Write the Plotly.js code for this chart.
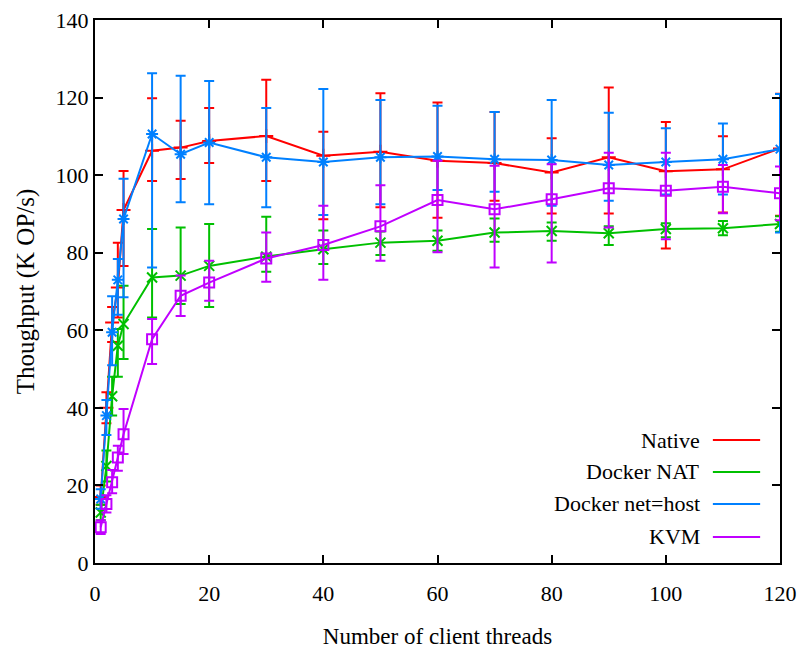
<!DOCTYPE html>
<html>
<head>
<meta charset="utf-8">
<script src="https://cdn.plot.ly/plotly-3.0.1.min.js"></script>
<style>html,body{margin:0;padding:0;background:#fff;}#chart{width:800px;height:655px;}</style>
</head>
<body>
<div id="chart"></div>
<script>
// Number of client threads
const threads = [1, 2, 3, 4, 5, 10, 15, 20, 30, 40, 50, 60, 70, 80, 90, 100, 110, 120];

const seriesNames = ["Native", "Docker NAT", "Docker net=host", "KVM"];

// Throughput (K OP/s): value, upper end and lower end of each error bar
const nativeVal = [17, 40, 62, 71, 91, 106.3, 107.1, 108.8, 110.1, 105, 106, 103.7, 103.1, 100.7, 104.6, 101, 101.5, 106.9];
const nativeHi  = [20, 44, 66, 82.6, 101.1, 119.8, 114, 117.3, 124.6, 111.2, 121.1, 118.7, 116.3, 109.5, 122.6, 113.7, 110, 121];
const nativeLo  = [15, 36, 57, 63.3, 76.6, 98.5, 99, 103.1, 98.5, 88.6, 91.7, 89, 93.4, 90.1, 90.1, 81.1, 90.4, 89.5];

const natVal = [13, 25, 43, 56, 61.6, 73.6, 74.1, 76.6, 79, 80.9, 82.6, 83.1, 85.2, 85.6, 85, 86.1, 86.3, 87.4];
const natHi  = [15, 29, 48, 60.3, 71.5, 86.1, 86.5, 87.4, 89.3, 85.7, 85.5, 85.7, 88.8, 87.8, 86.8, 87.6, 88.2, 89.4];
const natLo  = [11, 21, 38, 48, 52.6, 63.3, 66.8, 66, 75.1, 77.1, 79.4, 80.5, 82.8, 83.1, 82, 84, 84.5, 85.4];

const hostVal = [16.5, 38, 59.5, 73, 88.7, 110.6, 105.4, 108.4, 104.6, 103.4, 104.6, 104.8, 104.1, 103.9, 102.6, 103.4, 104.1, 106.7];
const hostHi  = [19, 42, 68.8, 78.4, 99.1, 126.3, 125.6, 124.3, 117.3, 122.2, 119.4, 117.9, 116.3, 119.4, 116.1, 112.1, 113.3, 120.9];
const hostLo  = [14, 33, 51, 64, 68.5, 76.2, 93, 92.5, 91.7, 89.7, 92.5, 96.2, 95.7, 92.1, 93.4, 95, 95, 85.2];

const kvmVal = [9.2, 15.2, 20.8, 27.2, 33.2, 57.7, 68.9, 72.3, 78.5, 82, 86.8, 93.6, 91.2, 93.8, 96.6, 96, 97, 95.3];
const kvmHi  = [11, 17.5, 24, 30.2, 39.7, 62.9, 74.1, 77.9, 85.2, 92.1, 97.4, 103.7, 102.4, 102.8, 105.8, 105.8, 102.6, 102.2];
const kvmLo  = [7.5, 13, 18, 23.8, 28.1, 51.3, 63.7, 67.6, 72.5, 73, 77.9, 80.1, 76.2, 77.5, 86.5, 83.5, 90.2, 88.4];

const colors = ["#ff0000", "#00c000", "#0080ff", "#c000ff"];
const symbols = ["cross-thin-open", "x-thin-open", "asterisk-open", "square-open"];

const vals = [nativeVal, natVal, hostVal, kvmVal];
const his = [nativeHi, natHi, hostHi, kvmHi];
const los = [nativeLo, natLo, hostLo, kvmLo];

const traces = seriesNames.map((name, i) => ({
  type: "scatter",
  mode: "lines+markers",
  name: name,
  x: threads,
  y: vals[i],
  line: {color: colors[i], width: 2},
  marker: {symbol: symbols[i], size: 10, color: colors[i], line: {color: colors[i], width: 2}},
  error_y: {
    type: "data",
    symmetric: false,
    array: his[i].map((h, k) => h - vals[i][k]),
    arrayminus: los[i].map((l, k) => vals[i][k] - l),
    color: colors[i],
    thickness: 2,
    width: 5
  },
  showlegend: false
}));

const serif = "Liberation Serif";

// gnuplot-style key: text right-aligned, sample line to its right
const legY = [0.2265, 0.1676, 0.1087, 0.0479];
const annotations = seriesNames.map((name, i) => ({
  xref: "paper", yref: "paper", x: 0.886, y: legY[i],
  xanchor: "right", yanchor: "middle", showarrow: false,
  text: name,
  font: {family: "Liberation Serif", size: 22}
}));
const shapes = seriesNames.map((name, i) => ({
  type: "line", xref: "paper", yref: "paper",
  x0: 0.902, x1: 0.971, y0: legY[i], y1: legY[i],
  line: {color: colors[i], width: 2}
}));

const layout = {
  width: 800, height: 655,
  margin: {l: 95, r: 20, t: 20, b: 92},
  paper_bgcolor: "#fff", plot_bgcolor: "#fff",
  showlegend: false,
  font: {family: serif, color: "#000"},
  xaxis: {
    range: [0, 120], dtick: 20, tick0: 0,
    showgrid: false, zeroline: false,
    showline: true, linecolor: "#000", linewidth: 2, mirror: "ticks",
    ticks: "inside", ticklen: 8, tickwidth: 2, tickcolor: "#000",
    ticklabelstandoff: 10,
    tickfont: {family: serif, size: 22, color: "#000"},
    title: {text: "Number of client threads", font: {family: serif, size: 23, color: "#000"}, standoff: 22}
  },
  yaxis: {
    range: [0, 140], dtick: 20, tick0: 0,
    showgrid: false, zeroline: false,
    showline: true, linecolor: "#000", linewidth: 2, mirror: "ticks",
    ticks: "inside", ticklen: 8, tickwidth: 2, tickcolor: "#000",
    tickfont: {family: serif, size: 22, color: "#000"},
    title: {text: "Thoughput (K OP/s)", font: {family: serif, size: 25, color: "#000"}, standoff: 14}
  },
  annotations: annotations,
  shapes: shapes
};

Plotly.newPlot("chart", traces, layout, {displayModeBar: false, staticPlot: true});
</script>
</body>
</html>
